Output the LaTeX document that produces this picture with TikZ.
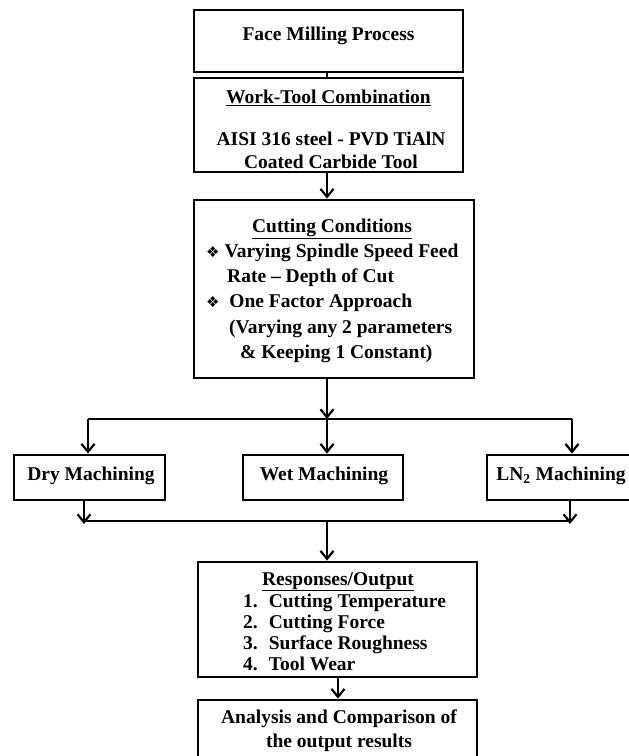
\documentclass[tikz,border=0pt]{standalone}
\usepackage{fontspec}
\setmainfont{Liberation Serif}
\newfontfamily\dejavu{DejaVu Sans}
\usetikzlibrary{arrows.meta}
\tikzset{
  box/.style={draw=black, line width=2.8pt, fill=white, inner sep=0pt},
  txt/.style={inner sep=0pt, font=\fontsize{19.5}{23}\selectfont\bfseries},
  conn/.style={line width=2.4pt, draw=black},
  arr/.style={conn, -{Straight Barb[length=8pt,width=13pt,line width=2.2pt]}},
}
\newcommand{\bul}{{\dejavu\fontsize{15}{17}\selectfont\char"2756}}
\begin{document}
\begin{tikzpicture}[x=1pt,y=-1pt]
\useasboundingbox (0,0) rectangle (629,756);
% boxes
\node[box, minimum width=269pt, minimum height=62pt] (b1) at (328.5,41) {};
\node[box, minimum width=269pt, minimum height=94pt] (b2) at (328.5,125) {};
\node[box, minimum width=280pt, minimum height=178pt] (b3) at (334,289) {};
\node[box, minimum width=151pt, minimum height=45pt] (dry) at (89.5,477.5) {};
\node[box, minimum width=160pt, minimum height=45pt] (wet) at (323,477.5) {};
\node[box, minimum width=150pt, minimum height=45pt] (ln) at (562,477.5) {};
\node[box, minimum width=279pt, minimum height=115pt] (resp) at (337.5,619.5) {};
\node[box, minimum width=279pt, minimum height=80pt] (ana) at (337.5,740) {};
% texts
\node[txt, anchor=base] (t1) at (328.5,40) {Face Milling Process};
\node[txt, anchor=base] (t2a) at (328.5,103) {\underline{Work-Tool Combination}};
\node[txt, anchor=base] (t2b) at (331,145) {AISI 316 steel - PVD TiAlN};
\node[txt, anchor=base] (t2c) at (331,168) {Coated Carbide Tool};
\node[txt, anchor=base] (t3a) at (332,232) {\underline{Cutting Conditions}};
\node[txt, anchor=base west] (t3b) at (206,257) {\bul\ Varying Spindle Speed Feed};
\node[txt, anchor=base west] (t3c) at (227,282) {Rate -- Depth of Cut};
\node[txt, anchor=base west] (t3d) at (206,307) {\bul\ \ One Factor Approach};
\node[txt, anchor=base west] (t3e) at (229,333) {(Varying any 2 parameters};
\node[txt, anchor=base west] (t3f) at (240,358) {\& Keeping 1 Constant)};
\node[txt, anchor=base] (td) at (91,480) {Dry Machining};
\node[txt, anchor=base] (tw) at (324,480) {Wet Machining};
\node[txt, anchor=base] (tl) at (561,480) {LN\textsubscript{2} Machining};
\node[txt, anchor=base] (tr) at (338,585) {\underline{Responses/Output}};
\node[txt, anchor=base west] (r1) at (243,607) {1.\hspace{11pt}Cutting Temperature};
\node[txt, anchor=base west] (r2) at (243,628) {2.\hspace{11pt}Cutting Force};
\node[txt, anchor=base west] (r3) at (243,649) {3.\hspace{11pt}Surface Roughness};
\node[txt, anchor=base west] (r4) at (243,670) {4.\hspace{11pt}Tool Wear};
\node[txt, anchor=base] (ta) at (339,723) {Analysis and Comparison of};
\node[txt, anchor=base] (tb) at (339,747) {the output results};
% connectors
\coordinate (s1) at (327,419);
\coordinate (sl) at (88,419);
\coordinate (sr) at (572,419);
\coordinate (m1) at (327,521);
\coordinate (ml) at (84,521);
\coordinate (mr) at (570,521);
\draw[conn] (b1.south -| 327,0) -- (b2.north -| 327,0);
\draw[arr] (b2.south -| 327,0) -- (b3.north -| 327,0);
\draw[arr] (b3.south -| s1) -- (s1);
\draw[conn] (sl) -- (sr);
\draw[arr] (sl) -- (dry.north -| sl);
\draw[arr] (s1) -- (wet.north -| s1);
\draw[arr] (sr) -- (ln.north -| sr);
\draw[arr] (dry.south -| ml) -- ([yshift=-3pt]ml);
\draw[arr] (ln.south -| mr) -- ([yshift=-3pt]mr);
\draw[conn] (ml) -- (mr);
\draw[arr] (m1) -- (resp.north -| m1);
\draw[arr] (resp.south -| 338,0) -- (ana.north -| 338,0);
\end{tikzpicture}
\end{document}
